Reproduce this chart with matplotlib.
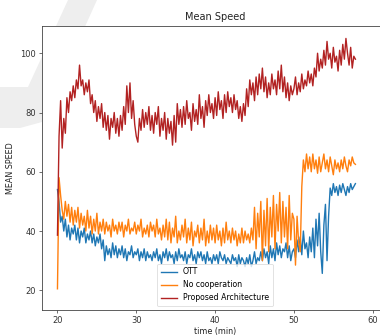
import numpy as np
import matplotlib
matplotlib.use("Agg")
import matplotlib.pyplot as plt
from matplotlib.patches import Polygon

# ---- data ----
t_start = 20.0
t_step = 0.2

ott = [
    54, 50, 43, 45, 40, 44, 38, 42, 37, 41,
    39, 42, 37, 41, 36, 40, 38, 41, 36, 39,
    37, 40, 36, 39, 35, 38, 36, 39, 34, 37,
    30, 35, 32, 34, 31, 36, 32, 35, 31, 34,
    32, 35, 31, 34, 30, 33, 32, 35, 31, 33,
    32, 34, 30, 33, 31, 34, 30, 33, 31, 32,
    30, 33, 31, 34, 30, 32, 29, 33, 31, 34,
    30, 33, 31, 32, 29, 33, 30, 34, 31, 32,
    30, 33, 29, 32, 31, 34, 30, 32, 29, 33,
    31, 33, 30, 32, 29, 33, 30, 31, 29, 32,
    30, 32, 29, 33, 31, 30, 32, 29, 31, 30,
    29, 32, 30, 31, 28, 32, 29, 31, 30, 28,
    31, 29, 32, 28, 30, 33, 29, 31, 30, 33,
    30, 34, 31, 33, 29, 35, 31, 34, 30, 36,
    32, 35, 31, 34, 33, 36, 31, 35, 30, 33,
    34, 31, 37, 33, 38, 32, 40, 34, 36, 31,
    38, 33, 41, 31, 44, 35, 46, 33, 25.7, 42,
    49, 30, 45, 54.5, 52, 56, 53, 55, 52, 55.5,
    53, 56, 54, 52, 55, 53, 56, 54, 55, 56,
]

no_coop = [
    20.5, 58, 52, 47, 44, 50, 45, 49, 43, 48,
    42, 47, 43, 48, 41, 46, 42, 45, 40, 47,
    41, 45, 39, 44, 40, 46, 39, 43, 40, 44,
    39, 43, 40, 42, 38, 44, 40, 42, 39, 43,
    40, 43, 38, 42, 40, 44, 39, 41, 40, 43,
    39, 42, 40, 44, 38, 41, 39, 42, 38, 43,
    40, 42, 38, 44, 39, 41, 37, 42, 38, 44,
    37, 43, 36, 41, 38, 45, 36, 40, 37, 42,
    38, 44, 36, 41, 37, 43, 35, 40, 38, 42,
    36, 41, 37, 44, 35, 40, 36, 42, 37, 41,
    36, 42, 37, 40, 35, 41, 36, 43, 37, 40,
    36, 41, 37, 40, 35, 39, 36, 41, 36, 40,
    37, 39, 36, 41, 37, 48, 34, 46, 38, 50,
    30, 47, 35, 51, 33, 48, 38, 52, 34, 49,
    40, 53, 36, 50, 38, 48, 34, 52, 37, 46,
    44, 28.5, 45, 36, 33, 55, 64, 60, 66, 61,
    65, 60, 66, 61, 64, 59.5, 65, 60, 63, 66,
    61, 64, 60, 65, 62, 59, 64, 61, 63, 60,
    64, 61, 65, 62, 60, 64, 62, 65, 63, 62.5,
]

proposed = [
    38.6, 72, 84, 68, 78, 73, 85, 80, 87, 84,
    89, 85, 91, 88, 96, 89, 91, 86, 90, 87,
    91, 83, 86, 80, 84, 77, 82, 78, 83, 75,
    80, 74, 79, 71, 78, 75, 80, 73, 78, 72,
    79, 74, 82, 76, 89, 80, 90, 78, 84, 76,
    72, 70, 78, 74, 81, 75, 80, 76, 82, 74,
    79, 73, 80, 76, 82, 72, 78, 74, 80, 71,
    78, 73, 77, 69, 79, 70, 83, 76, 81, 75,
    82, 76, 84, 78, 80, 74, 83, 77, 81, 76,
    86, 78, 82, 75, 84, 79, 86, 80, 83, 78,
    85, 79, 87, 81, 84, 78, 86, 80, 87, 82,
    85, 80, 86, 81, 84, 78, 82, 77, 83, 79,
    88, 82, 91, 86, 90, 84, 92, 86, 93, 88,
    95, 87, 92, 85, 90, 86, 93, 88, 91, 86,
    94, 88, 96, 87, 92, 85, 90, 84, 89, 86,
    88, 92, 86, 90, 87, 93, 88, 91, 89, 94,
    90, 93, 89, 95, 92, 100, 94, 98, 95, 101,
    96, 104, 98, 100, 95, 102, 97, 99, 94, 101,
    96, 103, 98, 105, 100, 96, 102, 95, 99, 98,
]

series_labels = ["OTT", "No cooperation", "Proposed Architecture"]
series_colors = ["#1f77b4", "#ff7f0e", "#b22222"]
x_ticks = [20, 30, 40, 50, 60]
y_ticks = [20, 40, 60, 80, 100]

time = t_start + t_step * np.arange(len(ott))

# ---- figure ----
W, H = 380, 336
fig = plt.figure(figsize=(W / 100, H / 100), dpi=100)

# light grey watermark stroke behind the axes (pixel coords -> figure coords)
wm_px = [(68, 0), (97, 0), (42, 122), (20, 128), (0, 128), (0, 87), (28, 87)]
wm = Polygon([(x / W, 1 - y / H) for x, y in wm_px], closed=True,
             transform=fig.transFigure, facecolor="#eeeeee",
             edgecolor="none", zorder=-1)
fig.add_artist(wm)

ax_left, ax_right = 41.7, 388.5
ax_top, ax_bottom = 26.0, 310.0
ax = fig.add_axes([ax_left / W, 1 - ax_bottom / H,
                   (ax_right - ax_left) / W, (ax_bottom - ax_top) / H])

for vals, lab, col in zip([ott, no_coop, proposed], series_labels, series_colors):
    ax.plot(time, vals, color=col, lw=1.0, label=lab)

ax.set_xlim(18.0, 62.0)
ax.set_ylim(13.35, 109.2)
ax.set_xticks(x_ticks)
ax.set_yticks(y_ticks)
ax.tick_params(labelsize=6, length=2.1, width=0.5, pad=2, colors="#333333")
for s in ax.spines.values():
    s.set_linewidth(0.6)
    s.set_color("#444444")

ax.set_title("Mean Speed", fontsize=7, pad=4, color="#222222")
ax.set_xlabel("time (min)", fontsize=5.8, labelpad=2, color="#222222")
ax.set_ylabel("MEAN SPEED", fontsize=5.8, labelpad=4, color="#222222")

leg = ax.legend(loc="lower center", fontsize=5.6, frameon=True,
                handlelength=2.0, borderpad=0.5, labelspacing=0.5,
                borderaxespad=0.5)
leg.get_frame().set_linewidth(0.5)

fig.savefig("out.png", dpi=100)
